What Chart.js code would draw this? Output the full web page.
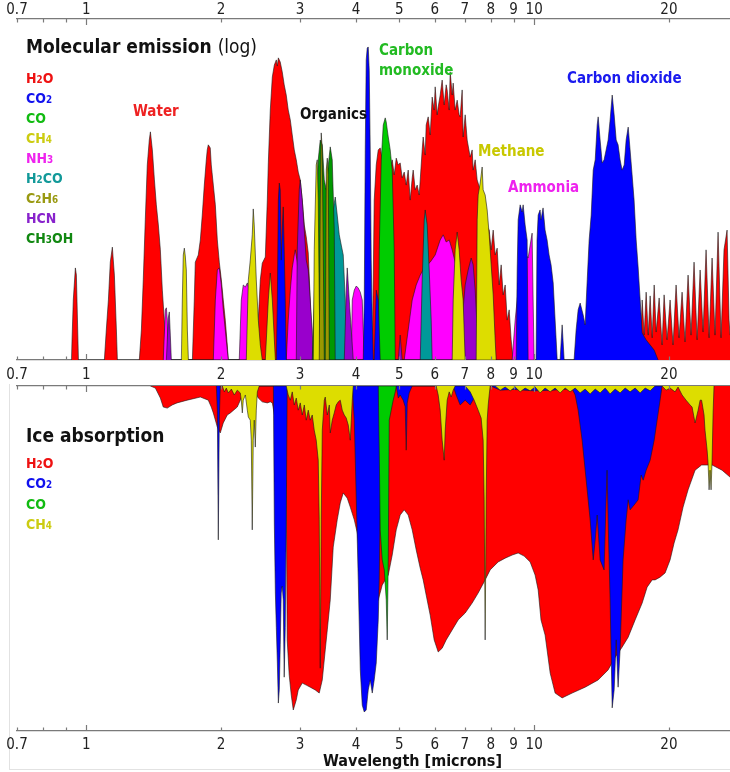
<!DOCTYPE html>
<html>
<head>
<meta charset="utf-8">
<script src="https://cdn.jsdelivr.net/npm/chart.js@4/dist/chart.umd.min.js"></script>
<style>
  html,body{margin:0;padding:0;background:#fff;}
  #wrap{position:relative;width:730px;height:772px;overflow:hidden;}
  canvas{position:absolute;left:0;}
  .t{position:absolute;white-space:nowrap;line-height:1;font-family:'Liberation Sans Narrow','DejaVu Sans Condensed','Liberation Sans',sans-serif;font-weight:bold;z-index:5;}
  .s{font-size:70%;}
  .frame{position:absolute;left:9px;top:384px;width:721px;height:385px;border-left:1px solid #e2e2e2;border-bottom:1px solid #e2e2e2;}
</style>
</head>
<body>
<div id="wrap">
  <div class="frame"></div>
  <canvas id="c1" width="730" height="384" style="top:0"></canvas>
  <canvas id="c2" width="730" height="389" style="top:383px"></canvas>

  <div class="t" style="left:26px;top:37px;font-size:19px;color:#111">Molecular emission <span style="font-weight:normal">(log)</span></div>
  <div class="t" style="left:26px;top:71px;font-size:14px;color:#ee1111">H<span class="s">2</span>O</div>
  <div class="t" style="left:26px;top:91px;font-size:14px;color:#1111ee">CO<span class="s">2</span></div>
  <div class="t" style="left:26px;top:111px;font-size:14px;color:#11bb11">CO</div>
  <div class="t" style="left:26px;top:131px;font-size:14px;color:#cccc11">CH<span class="s">4</span></div>
  <div class="t" style="left:26px;top:151px;font-size:14px;color:#ee22ee">NH<span class="s">3</span></div>
  <div class="t" style="left:26px;top:171px;font-size:14px;color:#119999">H<span class="s">2</span>CO</div>
  <div class="t" style="left:26px;top:191px;font-size:14px;color:#999911">C<span class="s">2</span>H<span class="s">6</span></div>
  <div class="t" style="left:26px;top:211px;font-size:14px;color:#8822cc">HCN</div>
  <div class="t" style="left:26px;top:231px;font-size:14px;color:#118811">CH<span class="s">3</span>OH</div>

  <div class="t" style="left:133px;top:104px;font-size:15px;color:#ee2222">Water</div>
  <div class="t" style="left:300px;top:107px;font-size:15px;color:#111">Organics</div>
  <div class="t" style="left:379px;top:43px;font-size:15px;color:#22bb22">Carbon</div>
  <div class="t" style="left:379px;top:63px;font-size:15px;color:#22bb22">monoxide</div>
  <div class="t" style="left:478px;top:144px;font-size:15px;color:#c8c800">Methane</div>
  <div class="t" style="left:508px;top:180px;font-size:15px;color:#ee22ee">Ammonia</div>
  <div class="t" style="left:567px;top:71px;font-size:15px;color:#1a1aee">Carbon dioxide</div>

  <div class="t" style="left:26px;top:426px;font-size:19px;color:#111">Ice absorption</div>
  <div class="t" style="left:26px;top:456px;font-size:14px;color:#ee1111">H<span class="s">2</span>O</div>
  <div class="t" style="left:26px;top:476px;font-size:14px;color:#1111ee">CO<span class="s">2</span></div>
  <div class="t" style="left:26px;top:497px;font-size:14px;color:#11bb11">CO</div>
  <div class="t" style="left:26px;top:517px;font-size:14px;color:#cccc11">CH<span class="s">4</span></div>

  <div class="t" style="left:323px;top:753px;font-size:16px;color:#111">Wavelength [microns]</div>
</div>

<script>
// ---------- axis ticks ----------
const tickValues = [0.7, 0.8, 0.9, 1, 2, 3, 4, 5, 6, 7, 8, 9, 10, 20];
const tickLabels = ['0.7', '', '', '1', '2', '3', '4', '5', '6', '7', '8', '9', '10', '20'];
const xMin = 0.7, xMax = 27.38;

// ---------- emission spectra [wavelength (micron), log emission, 0-100] ----------
const emH2O = [
 [0.926,0],[0.935,17.6],[0.945,27],[0.950,24.9],[0.960,0],
 [1.097,0],[1.108,8.8],[1.120,17.6],[1.131,28.7],[1.143,33.1],[1.155,24.9],[1.167,8.8],[1.173,0],
 [1.313,0],[1.327,8.8],[1.340,23.5],[1.354,41.1],[1.368,57.2],[1.382,64.5],[1.390,66.9],[1.404,61.6],[1.419,52.8],[1.433,45.5],[1.448,39.6],[1.463,32.3],[1.478,20.5],[1.493,11.7],[1.509,1.5],[1.516,0],
 [1.725,0],[1.742,17.6],[1.751,28.7],[1.778,30.8],[1.797,35.2],[1.815,42.5],[1.834,51.3],[1.853,58.7],[1.862,61.6],[1.872,63.1],[1.891,62.2],[1.901,57.2],[1.921,51.3],[1.941,45.5],[1.961,35.2],[1.981,28.7],[2.002,23.5],[2.022,17.6],[2.043,11.7],[2.064,4.4],[2.075,0],
 [2.396,0],[2.421,11.7],[2.446,23.5],[2.471,28.4],[2.510,30.2],[2.536,46.9],[2.549,57.8],[2.575,73.3],[2.602,83],[2.629,86.5],[2.656,88],[2.670,86.2],[2.684,88.6],[2.710,87.4],[2.738,84.5],[2.766,80.7],[2.795,77.7],[2.824,73.3],[2.854,70.4],[2.883,66],[2.913,61.6],[2.943,58.7],[2.973,55.1],[3.004,52.8],[3.035,46.9],[3.067,39.6],[3.098,36.1],[3.130,31.4],[3.162,17.6],[3.195,0],
 [4.350,0],[4.394,46.9],[4.440,57.2],[4.486,61.6],[4.532,62.2],[4.579,58.7],[4.650,61.6],[4.771,55.7],[4.820,58.7],[4.870,54.3],[4.921,59.2],[4.972,57.2],[5.022,57.8],[5.074,53.4],[5.127,55.1],[5.180,51.3],[5.233,55.7],[5.287,46.9],[5.342,53.4],[5.369,55.7],[5.425,49.9],[5.481,51.3],[5.538,48.4],[5.567,52.8],[5.623,61.6],[5.652,65.4],[5.711,60.1],[5.740,68.9],[5.800,71.3],[5.860,66],[5.920,77.1],[5.981,73.3],[6.012,80.1],[6.074,71.9],[6.106,74.2],[6.169,77.7],[6.232,82.1],[6.297,74.8],[6.362,80.7],[6.394,79.2],[6.461,73.3],[6.494,84.5],[6.561,77.7],[6.595,81.2],[6.663,73.3],[6.732,76.2],[6.801,71.9],[6.836,71.3],[6.907,79.2],[6.942,65.4],[7.015,71.9],[7.087,64.5],[7.197,59.5],[7.271,61.6],[7.309,55.7],[7.385,58.7],[7.461,52.8],[7.577,49.9],[7.694,45.5],[7.815,39.6],[7.937,38.1],[8.018,32.3],[8.101,38.1],[8.185,30.8],[8.269,32.8],[8.355,22],[8.441,27.9],[8.528,19.1],[8.617,22],[8.706,11.7],[8.796,14.7],[8.886,5.9],[8.979,0],
 [17.25,0],[17.43,17.6],[17.61,7.3],[17.79,19.9],[17.98,7.3],[18.16,18.8],[18.35,6.5],[18.54,22],[18.73,8.2],[19.02,18.2],[19.31,4.4],[19.51,19.1],[19.81,5.9],[20.12,17.6],[20.43,4.4],[20.75,22],[21.07,6.5],[21.40,19.9],[21.73,5.3],[22.07,24.9],[22.41,7.3],[22.76,28.7],[23.12,5.9],[23.48,26.4],[23.84,8.2],[24.21,32.3],[24.59,6.5],[24.97,29.9],[25.35,7.3],[25.75,37.5],[26.15,6.5],[26.55,32.3],[26.97,38.1],[27.25,11.7],[27.38,7.3]
];
const emCO2 = [
 [2.656,0],[2.670,17.6],[2.684,46.9],[2.697,51.9],[2.710,49.9],[2.724,29.3],[2.738,38.1],[2.752,44.9],[2.766,32.3],[2.781,17.6],[2.795,0],
 [4.153,0],[4.175,17.6],[4.196,61.6],[4.217,88],[4.239,91.5],[4.261,91.8],[4.283,85],[4.305,61.6],[4.327,29.3],[4.350,11.7],[4.372,0],
 [4.394,0],[4.440,20.5],[4.486,17.6],[4.532,0],
 [9.118,0],[9.165,26.4],[9.212,41.1],[9.307,45.5],[9.402,43.4],[9.451,45.5],[9.548,39.6],[9.647,35.2],[9.696,0],
 [10.10,0],[10.15,35.2],[10.21,42.5],[10.31,44],[10.36,41.1],[10.47,44.6],[10.58,38.1],[10.69,35.2],[10.80,30.8],[10.91,27.9],[11.03,22.6],[11.14,11.7],[11.26,0],
 [11.43,0],[11.55,10.3],[11.67,0],
 [12.28,0],[12.41,8.8],[12.54,14.7],[12.67,16.7],[12.87,13.2],[13.00,10.3],[13.14,23.5],[13.27,35.2],[13.41,42.5],[13.55,55.7],[13.69,58.7],[13.83,68.9],[13.90,71.3],[14.04,64.5],[14.19,57.8],[14.33,58.7],[14.48,61.6],[14.63,64.5],[14.78,70.4],[14.94,77.7],[15.09,71.9],[15.25,64.5],[15.40,63.1],[15.56,58.7],[15.72,55.7],[15.89,57.2],[16.05,64.5],[16.22,68.3],[16.38,61.6],[16.55,54.3],[16.72,46.9],[16.90,35.2],[17.07,27.3],[17.25,17.6],[17.43,7.9],[17.79,5.9],[18.16,4.4],[18.54,2.9],[18.92,0]
];
const emCO = [
 [4.486,0],[4.509,32.3],[4.556,58.7],[4.603,68.9],[4.650,71],[4.674,69.8],[4.723,65.4],[4.771,61.6],[4.820,55.7],[4.870,32.3],[4.896,0]
];
const emCH4 = [
 [1.630,0],[1.638,17.6],[1.646,30.8],[1.655,32.8],[1.663,30.5],[1.672,26.4],[1.681,8.8],[1.690,0],
 [2.276,0],[2.300,23.5],[2.323,29.3],[2.347,36.7],[2.359,44.3],[2.371,39.6],[2.396,23.5],[2.421,11.7],[2.446,4.4],[2.471,0],
 [2.510,0],[2.549,17.6],[2.575,25.5],[2.602,17.6],[2.643,0],
 [3.212,0],[3.228,32.3],[3.261,57.2],[3.278,58.7],[3.295,46.9],[3.312,17.6],[3.329,0],
 [6.561,0],[6.595,17.6],[6.663,32.3],[6.732,37.5],[6.801,32.3],[6.871,23.5],[6.942,17.6],[7.015,0],
 [7.423,0],[7.461,41.1],[7.499,48.4],[7.577,51.9],[7.655,56.6],[7.694,49.9],[7.774,48.4],[7.855,44],[7.937,36.7],[8.018,27.9],[8.101,19.1],[8.185,5.9],[8.227,0]
];
const emNH3 = [
 [1.485,0],[1.501,14.7],[1.509,15.3],[1.516,11.7],[1.524,0],
 [1.921,0],[1.941,17.6],[1.961,26.4],[1.981,27],[2.002,22],[2.022,14.7],[2.043,8.8],[2.064,2.9],[2.075,0],
 [2.195,0],[2.218,17.6],[2.241,22],[2.265,21.4],[2.288,22.6],[2.312,20.5],[2.335,17.6],[2.359,0],
 [2.795,0],[2.824,11.7],[2.854,20.5],[2.883,27],[2.913,30.8],[2.928,32.3],[2.958,28.7],[2.988,20.5],[3.004,0],
 [3.905,0],[3.925,17.6],[3.966,20.5],[4.007,21.7],[4.048,21.1],[4.090,19.9],[4.132,17.6],[4.153,8.8],[4.175,0],
 [5.127,0],[5.233,8.8],[5.342,17.6],[5.453,22],[5.567,24.9],[5.682,27],[5.860,28.7],[6.012,30.8],[6.169,35.2],[6.265,36.7],[6.362,34.6],[6.461,35.2],[6.561,32.3],[6.663,28.7],[6.767,24.9],[6.871,17.6],[6.942,0],
 [8.931,0],[9.071,11.7],[9.212,20.5],[9.355,24.9],[9.500,26.4],[9.598,30.8],[9.696,29.9],[9.797,33.7],[9.897,37.2],[9.948,17.6],[10.00,0]
];
const emH2CO = [
 [3.541,0],[3.559,44],[3.596,47.8],[3.633,42.5],[3.671,36.7],[3.709,33.7],[3.747,30.8],[3.786,17.6],[3.806,0],
 [5.567,0],[5.623,23.5],[5.682,41.1],[5.711,44],[5.770,39.6],[5.830,26.4],[5.890,11.7],[5.920,0]
];
const emC2H6 = [
 [3.312,0],[3.329,46.9],[3.346,66.6],[3.364,61.6],[3.381,32.3],[3.399,0],
 [3.416,0],[3.434,55.7],[3.452,59.2],[3.470,54.3],[3.488,0]
];
const emHCN = [
 [1.509,0],[1.524,12.3],[1.532,14.1],[1.540,7.3],[1.548,0],
 [2.943,0],[2.958,32.3],[2.988,49.9],[3.004,52.8],[3.035,46.9],[3.067,38.1],[3.098,29.3],[3.130,26.4],[3.162,17.6],[3.195,8.8],[3.212,0],
 [3.767,0],[3.806,20.5],[3.825,27],[3.865,17.6],[3.905,8.8],[3.945,0],
 [4.972,0],[5.022,7.3],[5.074,0],
 [6.801,0],[6.907,11.7],[7.015,22],[7.124,26.4],[7.234,29.9],[7.309,27.9],[7.385,20.5],[7.461,8.8],[7.499,0]
];
const emCH3OH = [
 [3.195,0],[3.228,17.6],[3.261,41.1],[3.295,58.7],[3.329,64.5],[3.364,63.1],[3.399,52.8],[3.434,49.9],[3.470,57.2],[3.505,62.5],[3.541,58.7],[3.578,38.1],[3.596,0]
];

// ---------- ice absorption [wavelength (micron), absorption depth 0-100] ----------
const abH2O = [
 [1.390,0],[1.426,0.6],[1.463,3.5],[1.485,6.1],[1.516,6.4],[1.555,5.5],[1.594,4.9],[1.680,4.1],[1.797,3.2],[1.872,4.1],[1.901,6.1],[1.921,7.8],[1.961,11.9],[1.991,13.6],[2.022,10.7],[2.064,8.4],[2.097,7.8],[2.173,6.1],[2.207,4.1],[2.241,2],[2.300,1.7],[2.384,1.7],[2.421,3.5],[2.471,4.6],[2.536,4.9],[2.575,4.6],[2.602,4.9],[2.643,9.9],[2.670,20],[2.724,22],[2.781,25],[2.795,30],[2.809,73.6],[2.838,83.8],[2.868,89.6],[2.898,93.9],[2.943,91],[2.973,88.1],[3.035,86.1],[3.098,86.7],[3.162,87.3],[3.244,88.1],[3.312,89],[3.364,85.2],[3.416,76.5],[3.452,70.7],[3.505,62],[3.559,46.7],[3.633,38.8],[3.690,33.9],[3.747,31],[3.825,32.5],[3.885,35.1],[3.966,38.8],[4.028,42.6],[4.090,50.4],[4.196,62],[4.350,64.9],[4.486,62],[4.579,57.7],[4.650,56.2],[4.723,54.8],[4.820,49],[4.921,41.7],[5.022,37.4],[5.127,35.9],[5.233,37.4],[5.342,41.7],[5.453,47.5],[5.567,52.8],[5.652,56.2],[5.740,60.6],[5.860,66.4],[5.981,73.6],[6.106,77.1],[6.232,76],[6.362,73.6],[6.561,70.7],[6.767,67.8],[7.015,65.8],[7.271,62.9],[7.499,60],[7.774,56.2],[7.977,53.3],[8.312,51],[8.617,49.9],[8.931,49],[9.212,48.4],[9.500,49.3],[9.797,51],[10.05,54.8],[10.21,59.1],[10.36,67.8],[10.58,72.2],[10.86,83.2],[11.14,89],[11.55,90.4],[12.16,89],[13.00,87.3],[13.90,85.2],[14.63,82.3],[15.17,78.6],[15.72,75.7],[16.22,72.8],[16.81,67.8],[17.43,62.9],[17.88,58.3],[18.35,56.2],[18.63,56.2],[19.11,55.4],[19.61,54.2],[20.12,50.4],[20.54,45.5],[20.96,41.7],[21.51,35.1],[22.07,30.1],[22.88,24.4],[23.66,22.9],[24.97,22.9],[26.28,24.4],[27.38,26.4]
];
const abCO2 = [
 [1.951,0],[1.961,7],[1.971,44.6],[1.981,9.9],[1.991,0],
 [2.616,0],[2.629,40],[2.643,60],[2.656,70],[2.670,80],[2.684,91.9],[2.697,88],[2.710,75],[2.724,60],[2.738,58],[2.752,62],[2.766,84.4],[2.781,70],[2.795,40],[2.809,0],
 [3.925,0],[3.966,9.9],[4.007,33],[4.048,56.2],[4.090,82.3],[4.132,92.5],[4.175,94.5],[4.217,93.9],[4.261,88.1],[4.305,85.2],[4.350,89],[4.394,85.2],[4.440,80.3],[4.486,67.8],[4.509,56.2],[4.532,33],[4.556,0],
 [4.921,0],[4.972,3.5],[5.022,2.6],[5.100,4.1],[5.153,6],[5.180,18.6],[5.207,5],[5.260,2],[5.342,0],
 [6.595,0],[6.697,2.6],[6.836,5.5],[7.015,4.1],[7.197,5.5],[7.346,3.5],[7.423,0],
 [8.0,0],[8.4,1.2],[9.0,1],[10.0,1.4],[11.0,1.2],[12.16,0.8],
 [12.35,2.6],[12.54,7],[12.80,15.7],[13.07,27.3],[13.34,38.8],[13.55,50.4],[13.69,44.6],[13.83,37.4],[14.04,50.4],[14.33,53.3],[14.48,33],[14.55,24.4],[14.63,38.8],[14.78,62],[14.94,93.3],[15.09,88.1],[15.25,73.6],[15.40,87.3],[15.56,76.5],[15.80,50.4],[16.05,38.8],[16.22,33],[16.38,35.9],[16.72,34.5],[17.07,33],[17.34,25.8],[17.52,27.3],[17.79,24.4],[18.16,21.5],[18.54,15.7],[18.82,9.9],[19.11,4.1],[19.31,0]
];
const abCO = [
 [4.486,0],[4.509,18.6],[4.532,41.7],[4.579,50.4],[4.627,53.3],[4.674,62],[4.698,73.6],[4.723,50.4],[4.747,9.9],[4.796,7],[4.845,4.1],[4.896,1.7],[4.921,0]
];
const abCH4 = [
 [2.012,0],[2.033,1.7],[2.054,0.6],[2.075,2],[2.108,0.9],[2.140,2.6],[2.173,1.2],[2.207,2],[2.218,4.1],[2.230,7.8],[2.241,4.1],[2.265,2.6],[2.288,7],[2.300,9],[2.323,9.9],[2.335,15.7],[2.347,41.7],[2.359,15.7],[2.371,9.9],[2.384,17.7],[2.396,7],[2.409,1.7],[2.433,0],
 [2.795,0],[2.824,2.6],[2.854,4.1],[2.883,1.7],[2.913,5.5],[2.943,3.5],[2.973,7],[3.004,4.9],[3.035,8.4],[3.067,5.5],[3.098,9.9],[3.130,7],[3.162,9.9],[3.195,8.4],[3.228,12.8],[3.261,15.7],[3.295,21.5],[3.312,38.8],[3.329,81.8],[3.346,38.8],[3.364,12.8],[3.399,4.1],[3.416,3.2],[3.452,8.4],[3.488,5.5],[3.505,13.6],[3.541,9.9],[3.578,7.8],[3.614,5.5],[3.652,4.6],[3.690,4.1],[3.728,7],[3.767,8.4],[3.806,9.3],[3.845,11.3],[3.885,15.7],[3.905,9.9],[3.925,4.1],[3.945,0],
 [6.043,0],[6.106,2.6],[6.169,7],[6.232,15.7],[6.297,21.5],[6.330,12.8],[6.394,4.1],[6.461,1.7],[6.528,3.2],[6.595,1.2],[6.663,0],
 [7.015,0],[7.197,1.7],[7.346,4.1],[7.499,7],[7.616,9.3],[7.694,15.7],[7.734,33],[7.774,73.6],[7.815,33],[7.855,9.9],[7.896,5.5],[7.937,2.6],[7.977,0],
 [8.185,0],[8.398,1.2],[8.617,0.3],[8.841,1.4],[9.071,0.3],[9.307,1.7],[9.548,0.6],[9.797,1.4],[10.05,0.3],[10.31,2],[10.58,0.6],[10.86,1.7],[11.14,0.6],[11.43,2],[11.73,0.6],[12.03,1.7],[12.35,0.6],[12.67,2],[13.00,0.9],[13.34,2.3],[13.69,0.9],[14.04,2],[14.41,0.6],[14.78,2.3],[15.17,0.9],[15.56,2],[15.97,0.6],[16.38,1.7],[16.81,0.6],[17.25,2],[17.70,0.6],[18.16,1.4],[18.63,0],
 [19.31,0],[19.71,1.2],[20.12,0.6],[20.64,1.7],[20.96,0.3],[21.40,2.6],[21.84,4.1],[22.30,5.5],[22.53,6.1],[22.88,10.7],[23.24,7],[23.48,4.1],[23.66,4.1],[23.96,8.4],[24.08,12.8],[24.34,18.6],[24.46,22.3],[24.59,30.1],[24.71,24.4],[24.84,30.1],[24.97,21.5],[25.10,7.8],[25.22,0]
];

// ---------- colours ----------
const colH2O = '#ff0000', colCO2 = '#0000ff', colCO = '#00cc00', colCH4 = '#dddd00',
      colNH3 = '#ff00ff', colH2CO = '#009999', colC2H6 = '#999900', colHCN = '#9900cc', colCH3OH = '#009900';

const FONT = "'Liberation Sans Narrow','DejaVu Sans Condensed','Liberation Sans',sans-serif";

function ds(label, pts, color, order) {
  return {
    label, order,
    data: pts.map(p => ({x: p[0], y: p[1]})),
    backgroundColor: color,
    borderColor: 'rgba(25,25,25,0.75)',
    borderWidth: 0.8,
    fill: 'origin',
    pointRadius: 0,
    tension: 0
  };
}

function xAxis(position, height, showLabels, pad) {
  return {
    type: 'logarithmic', position, min: xMin, max: xMax, z: 2,
    grid: {display: true, drawOnChartArea: false, drawTicks: false},
    border: {display: true, color: '#7a7a7a', width: 1.3},
    afterBuildTicks: s => { s.ticks = tickValues.map(v => ({value: v})); },
    afterFit: s => { s.height = height; },
    ticks: {
      display: showLabels, autoSkip: false, maxRotation: 0, padding: pad,
      color: '#222', font: {family: FONT, size: 15},
      callback: (v) => { const i = tickValues.indexOf(v); return i >= 0 ? tickLabels[i] : ''; }
    }
  };
}

const tickMarks = {
  id: 'tickMarks',
  afterDraw(chart) {
    const ctx = chart.ctx;
    ctx.save();
    ctx.strokeStyle = '#7a7a7a';
    ctx.lineWidth = 1.2;
    for (const id of ['x', 'x2']) {
      const s = chart.scales[id];
      if (!s) continue;
      const isTop = s.position === 'top';
      const y0 = isTop ? s.bottom : s.top;
      for (const v of tickValues) {
        const px = Math.round(s.getPixelForValue(v)) + 0.5;
        const len = (v === 1 || v === 10) ? 6 : 3.5;
        ctx.beginPath();
        ctx.moveTo(px, y0);
        ctx.lineTo(px, isTop ? y0 + len : y0 - len);
        ctx.stroke();
      }
    }
    ctx.restore();
  }
};

const common = {
  responsive: false, maintainAspectRatio: false, animation: false, devicePixelRatio: 1,
  plugins: {legend: {display: false}, tooltip: {enabled: false}},
  events: []
};

new Chart(document.getElementById('c1'), {
  type: 'line',
  data: {datasets: [
    ds('CO2', emCO2, colCO2, 1),
    ds('CO', emCO, colCO, 2),
    ds('C2H6', emC2H6, colC2H6, 3),
    ds('CH4', emCH4, colCH4, 4),
    ds('CH3OH', emCH3OH, colCH3OH, 5),
    ds('HCN', emHCN, colHCN, 6),
    ds('H2CO', emH2CO, colH2CO, 7),
    ds('NH3', emNH3, colNH3, 8),
    ds('H2O', emH2O, colH2O, 9)
  ]},
  options: Object.assign({}, common, {
    layout: {padding: {left: 17, right: 0, top: 0, bottom: 0}},
    scales: {
      x: xAxis('bottom', 24, true, 6),
      x2: xAxis('top', 19, true, 0),
      y: {display: false, min: 0, max: 100}
    }
  }),
  plugins: [tickMarks]
});

new Chart(document.getElementById('c2'), {
  type: 'line',
  data: {datasets: [
    ds('CH4', abCH4, colCH4, 1),
    ds('CO', abCO, colCO, 2),
    ds('CO2', abCO2, colCO2, 3),
    ds('H2O', abH2O, colH2O, 4)
  ]},
  options: Object.assign({}, common, {
    layout: {padding: {left: 17, right: 0, top: 0, bottom: 0}},
    scales: {
      x: xAxis('bottom', 41, true, 5),
      x2: xAxis('top', 3, false, 0),
      y: {display: false, min: 0, max: 100, reverse: true}
    }
  }),
  plugins: [tickMarks]
});
</script>
</body>
</html>
